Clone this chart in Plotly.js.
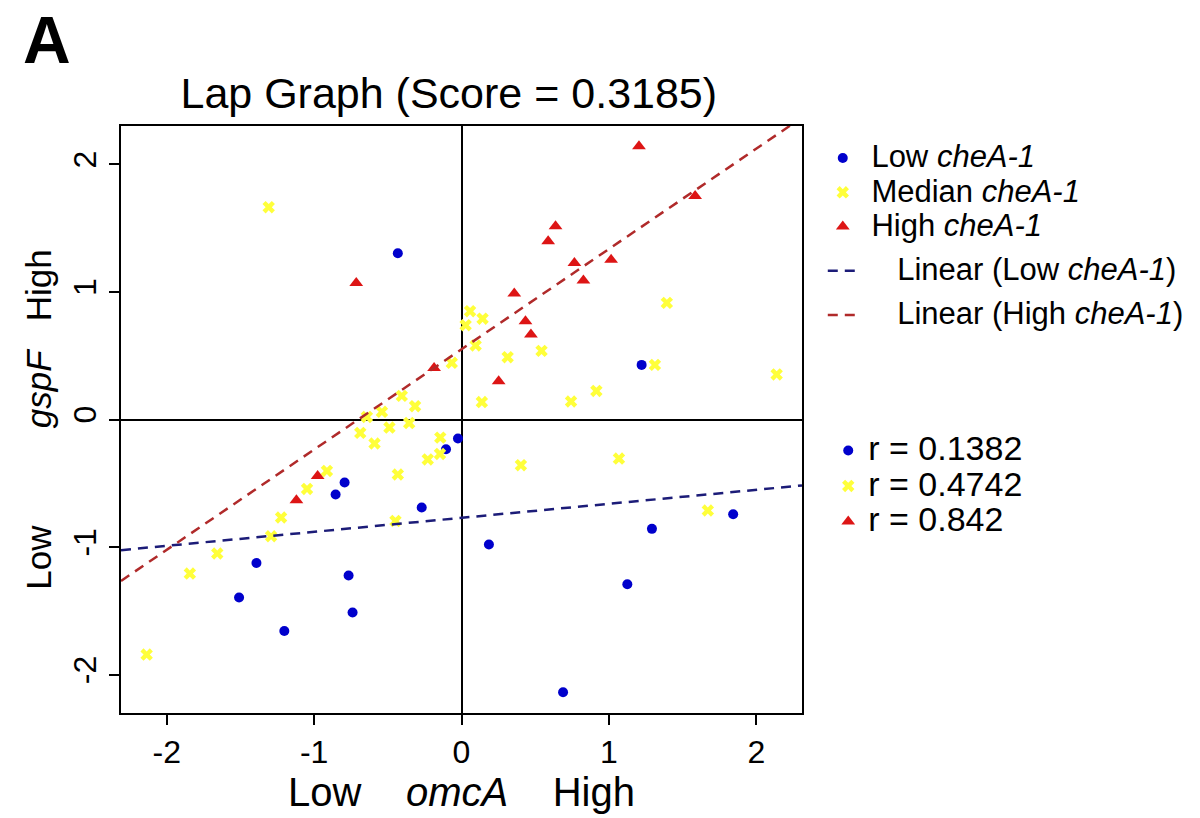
<!DOCTYPE html>
<html><head><meta charset="utf-8">
<script src="https://cdn.plot.ly/plotly-3.0.1.min.js"></script>
<style>html,body{margin:0;padding:0;background:#fff}</style>
</head><body>
<div id="chart" style="width:1200px;height:818px"></div>
<script>
// Low cheA-1 (blue circles)
const lowX = [-0.432, 1.222, -0.024, -0.105, -0.793, -0.854, -0.27, 0.186, 1.292, 1.843, -1.391, -1.509, -1.202, -0.766, -0.739, 1.125, 0.689];
const lowY = [1.303, 0.428, -0.149, -0.233, -0.494, -0.588, -0.69, -0.98, -0.857, -0.742, -1.124, -1.395, -1.657, -1.223, -1.513, -1.291, -2.137];
// Median cheA-1 (yellow crosses)
const medX = [-1.308, -0.066, 0.058, 0.028, 0.096, -0.405, -0.315, -0.54, -0.642, 0.138, -0.687, -0.59, -0.489, -0.355, -0.144, -0.229, -0.146, -0.913, -1.048, -0.432, -0.448, -1.224, -1.292, -1.657, -1.843, -2.136, 0.403, 1.068, 1.671, 0.143, 0.313, 0.543, 1.393, 1.312, 2.138, 0.743, 0.915];
const medY = [1.664, 0.444, 0.849, 0.739, 0.58, 0.185, 0.104, 0.06, 0.02, 0.137, -0.105, -0.188, -0.063, -0.028, -0.142, -0.313, -0.27, -0.403, -0.544, -0.431, -0.795, -0.768, -0.915, -1.05, -1.207, -1.842, -0.358, -0.306, -0.713, 0.79, 0.488, 0.538, 0.914, 0.428, 0.353, 0.141, 0.224];
// High cheA-1 (red triangles)
const highX = [1.204, 1.585, 0.638, 0.588, 0.766, 1.015, 0.827, 0.358, 0.434, 0.471, 0.252, -0.714, -0.186, -0.976, -1.12];
const highY = [2.142, 1.752, 1.515, 1.397, 1.227, 1.251, 1.089, 0.987, 0.77, 0.666, 0.3, 1.07, 0.404, -0.442, -0.632];
// Linear fits (end points)
const lowFitX = [-2.31, 2.31];
const lowFitY = [-1.024, -0.517];
const highFitX = [-2.31, 2.31];
const highFitY = [-1.265, 2.366];
// Correlations
const rLabels = ['r = 0.1382', 'r = 0.4742', 'r = 0.842'];
// Series names
const seriesNames = ['Low <i>cheA-1</i>', 'Median <i>cheA-1</i>', 'High <i>cheA-1</i>', 'Linear (Low <i>cheA-1</i>)', 'Linear (High <i>cheA-1</i>)'];
// Ticks
const tickVals = [-2, -1, 0, 1, 2];
const tickText = ['-2', '-1', '0', '1', '2'];

const FONT = 'Liberation Sans, Arial, sans-serif';
const BLUE = '#0000cc', YEL = '#ffff3a', RED = '#dd1515';
const mBlue = {color: BLUE, size: 10, symbol: 'circle'};
const mYel = {color: YEL, size: 11, symbol: 'x', line: {width: 0}};
const mRed = {color: RED, size: 12, symbol: 'triangle-up'};
const nb = '\u00a0';
const big = (t, s, lead) => '<span style="font-size:' + s + 'px">' + nb.repeat(lead) + t + '</span>';

const traces = [
  {x: lowX, y: lowY, mode: 'markers', type: 'scatter', name: big(seriesNames[0], 31, 1), marker: mBlue, legendgroup: 'p'},
  {x: medX, y: medY, mode: 'markers', type: 'scatter', name: big(seriesNames[1], 31, 1), marker: mYel, legendgroup: 'p'},
  {x: highX, y: highY, mode: 'markers', type: 'scatter', name: big(seriesNames[2], 31, 1), marker: mRed, legendgroup: 'p'},
  {x: lowFitX, y: lowFitY, mode: 'lines', type: 'scatter', name: big(seriesNames[3], 31, 4), line: {color: '#1c1c78', width: 2.5, dash: '10px,7px'}, legendgroup: 'l1'},
  {x: highFitX, y: highFitY, mode: 'lines', type: 'scatter', name: big(seriesNames[4], 31, 4), line: {color: '#b02a2a', width: 2.5, dash: '10px,7px'}, legendgroup: 'l2'},
  {x: [null], y: [null], mode: 'markers', type: 'scatter', name: big(rLabels[0], 34, 0), marker: mBlue, legend: 'legend2'},
  {x: [null], y: [null], mode: 'markers', type: 'scatter', name: big(rLabels[1], 34, 0), marker: mYel, legend: 'legend2'},
  {x: [null], y: [null], mode: 'markers', type: 'scatter', name: big(rLabels[2], 34, 0), marker: mRed, legend: 'legend2'}
];

const axisBase = {
  showgrid: false, zeroline: true, zerolinecolor: '#000', zerolinewidth: 2,
  showline: true, mirror: true, linecolor: '#000', linewidth: 2,
  ticks: 'outside', ticklen: 10, tickwidth: 2, tickcolor: '#000',
  tickmode: 'array', tickvals: tickVals, ticktext: tickText,
  tickfont: {family: FONT, size: 32, color: '#000'}, automargin: false
};
const layout = {
  width: 1200, height: 818,
  paper_bgcolor: '#fff', plot_bgcolor: '#fff',
  margin: {l: 121, r: 397, t: 126, b: 105},
  font: {family: FONT, color: '#000'},
  title: {text: 'Lap Graph (Score = 0.3185)', font: {family: FONT, size: 43, color: '#000'},
          xref: 'container', x: 0.374, xanchor: 'center', yref: 'container', y: 0.886, yanchor: 'middle'},
  xaxis: Object.assign({}, axisBase, {range: [-2.31, 2.31],
    title: {text: 'Low' + nb.repeat(4) + '<i>omcA</i>' + nb.repeat(4) + 'High', font: {family: FONT, size: 40, color: '#000'}, standoff: 7}}),
  yaxis: Object.assign({}, axisBase, {range: [-2.3, 2.3], tickangle: -90,
    title: {text: 'Low' + nb.repeat(10) + '<i>gspF</i>' + nb.repeat(3) + 'High' + nb, font: {family: FONT, size: 35, color: '#000'}, standoff: 5}}),
  showlegend: true,
  legend: {x: 1.029, y: 0.983, xanchor: 'left', yanchor: 'top', font: {family: FONT, size: 24, color: '#000'},
           bgcolor: 'rgba(0,0,0,0)', tracegroupgap: 10, itemwidth: 30},
  legend2: {x: 1.037, y: 0.486, xanchor: 'left', yanchor: 'top', font: {family: FONT, size: 25, color: '#000'},
            bgcolor: 'rgba(0,0,0,0)', itemwidth: 30},
  annotations: [
    {text: '<b>A</b>', xref: 'paper', yref: 'paper', x: -0.147, y: 1.147, xanchor: 'left', yanchor: 'middle',
     showarrow: false, font: {family: FONT, size: 66, color: '#000'}}
  ]
};
Plotly.newPlot('chart', traces, layout, {displayModeBar: false, staticPlot: true});
</script>
</body></html>
